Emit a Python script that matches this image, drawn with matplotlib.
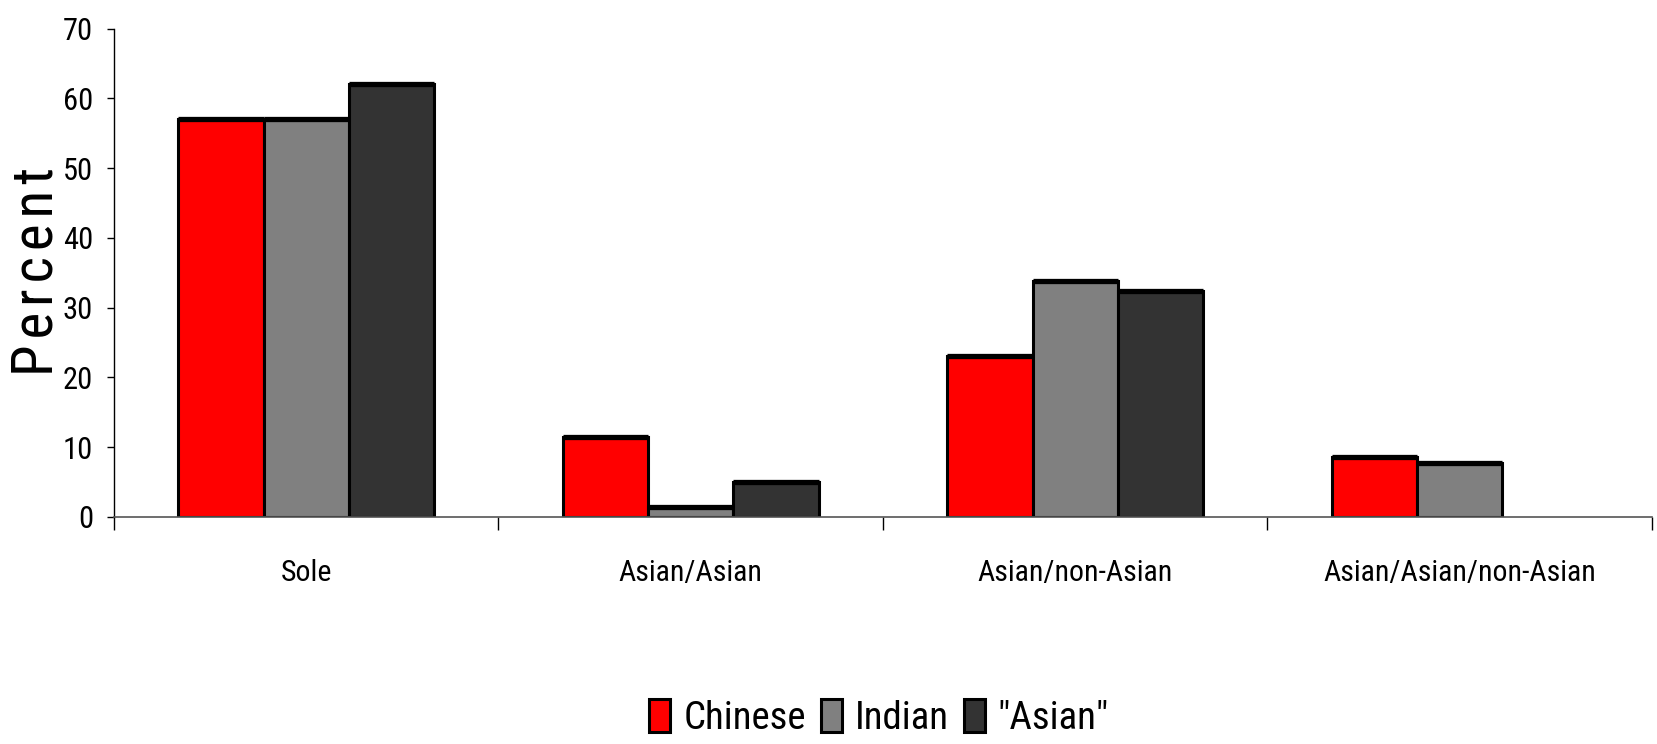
import numpy as np
import matplotlib
matplotlib.use("Agg")
import matplotlib.pyplot as plt

plt.rcParams['font.family'] = ['Roboto Condensed', 'DejaVu Sans']

categories = ["Sole", "Asian/Asian", "Asian/non-Asian", "Asian/Asian/non-Asian"]
series_names = ["Chinese", "Indian", "\"Asian\""]
chinese = [57.0, 11.4, 23.0, 8.6]
indian = [57.0, 1.4, 33.8, 7.8]
asian = [62.1, 5.0, 32.4, np.nan]
colors = ["#FF0000", "#808080", "#333333"]
yticks = [0, 10, 20, 30, 40, 50, 60, 70]

fig = plt.figure(figsize=(16.58, 7.44), dpi=100)
ax = fig.add_axes([114/1658, 1-517/744, (1652-114)/1658, (517-28.5)/744])

x = np.arange(len(categories))
w = 1/4.5
for i, (vals, c, name) in enumerate(zip([chinese, indian, asian], colors, series_names)):
    xs = x + (i-1)*w
    v = np.array(vals, dtype=float)
    ax.bar(xs, v, width=w, color=c, edgecolor='black', linewidth=2.2, label=name, zorder=3)
    ok = ~np.isnan(v)
    ax.hlines(v[ok], xs[ok]-w/2, xs[ok]+w/2, color='black', linewidth=3.8, zorder=4)

ax.set_xlim(-0.5, len(categories)-0.5)
ax.set_ylim(0, 70)
ax.set_yticks(yticks)
ax.set_yticklabels([str(t) for t in yticks], fontsize=22)
ax.set_xticks(x)
ax.set_xticklabels(categories, fontsize=21.5)
ax.set_xticks(np.arange(-0.5, len(categories)), minor=True)
ax.tick_params(axis='x', which='major', length=0, pad=30)
ax.tick_params(axis='x', which='minor', length=9, width=1.0, color='black', direction='out')
ax.tick_params(axis='y', length=5, width=1.0, color='black', direction='out', pad=10)
for s in ['top', 'right']:
    ax.spines[s].set_visible(False)
ax.spines['left'].set_linewidth(1.0)
ax.spines['left'].set_color('black')
ax.spines['bottom'].set_linewidth(1.2)
ax.spines['bottom'].set_color('#555555')
ax.spines['bottom'].set_zorder(5)

fig.text(37/1658, 1-272/744, "\u200a".join("Percent"), rotation=90, ha='center', va='center', fontsize=41)

fig.legend(loc='center', bbox_to_anchor=(879/1658, 1-718/744), ncol=3, frameon=False,
           fontsize=28, handlelength=0.55, handleheight=0.9, handletextpad=0.33,
           columnspacing=0.38, borderaxespad=0)

fig.savefig("out.png", dpi=100)
